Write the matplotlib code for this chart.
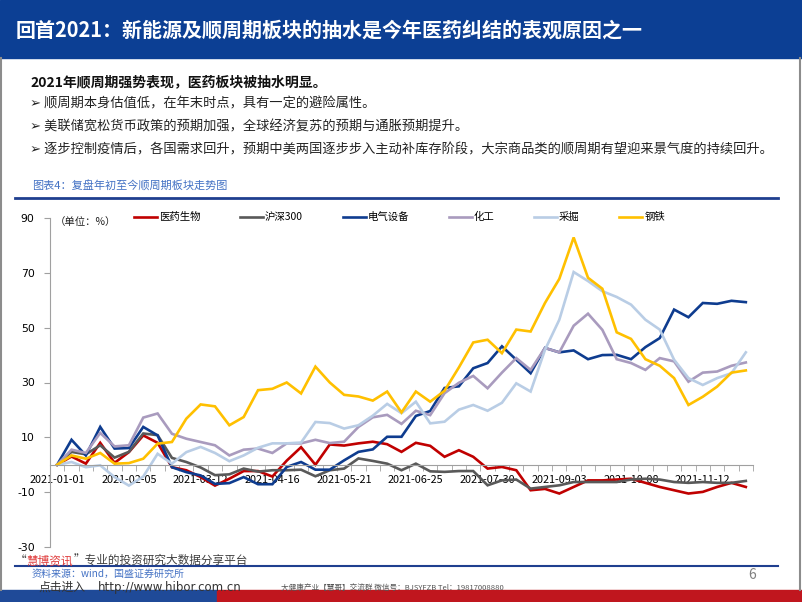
import matplotlib
matplotlib.use("Agg")
import matplotlib.pyplot as plt
from matplotlib.patches import Rectangle
import numpy as np
import pandas as pd

plt.rcParams['font.family'] = ['Noto Sans CJK SC', 'DejaVu Sans']
plt.rcParams['axes.unicode_minus'] = False

# weekly categories, 2021-01-01 .. 2021-12-03
dates = pd.date_range("2021-01-01", periods=49, freq="7D")
tick_labels = ["2021-01-01", "2021-02-05", "2021-03-12", "2021-04-16", "2021-05-21",
               "2021-06-25", "2021-07-30", "2021-09-03", "2021-10-08", "2021-11-12"]

names = ["医药生物", "沪深300", "电气设备", "化工", "采掘", "钢铁"]
colors = ["#C00000", "#595959", "#0E3C8F", "#A99BBE", "#B9CDE5", "#FFC000"]

yiyao = [0, 3.0, 0.4, 8.0, 0.7, 4.6, 10.7, 8.0, -0.9, -2.0, -4.5, -7.6, -5.1, -2.3, -2.3,
         -4.3, 1.5, 6.4, 0.0, 7.4, 7.0, 7.8, 8.4, 7.5, 4.7, 8.0, 6.9, 2.9, 5.3, 2.9, -1.4,
         -0.8, -2.0, -9.3, -8.8, -10.5, -8.1, -5.7, -5.7, -5.4, -5.1, -6.6, -8.1, -9.3,
         -10.5, -9.9, -8.1, -6.6, -8.1]
hs300 = [0, 4.7, 3.8, 7.1, 2.6, 4.7, 11.4, 10.8, 2.5, 1.0, -1.0, -3.8, -3.5, -1.4, -2.5,
         -2.0, -2.0, -1.8, -4.2, -2.0, -1.4, 2.3, 1.4, 0.4, -2.0, 0.4, -2.4, -2.6, -2.3,
         -2.3, -7.5, -5.7, -5.4, -8.7, -8.1, -7.5, -6.3, -6.3, -6.3, -6.3, -5.4, -5.1,
         -5.4, -6.3, -6.6, -6.3, -6.6, -6.6, -5.9]
dianqi = [0, 9.1, 3.4, 13.8, 5.9, 6.1, 13.8, 10.7, -0.9, -2.7, -3.9, -7.0, -6.7, -4.5,
          -7.1, -7.1, -0.8, 1.0, -1.8, -1.8, 1.6, 4.7, 5.6, 10.2, 10.2, 17.8, 19.6, 28.0,
          28.6, 35.2, 37.1, 43.2, 38.3, 33.4, 42.6, 41.0, 41.7, 38.5, 40.0, 40.1, 38.5,
          42.9, 46.2, 56.6, 53.8, 59.0, 58.7, 59.8, 59.3]
huagong = [0, 5.5, 4.3, 11.6, 6.7, 7.1, 17.2, 18.7, 11.3, 9.5, 8.3, 7.1, 3.4, 5.5, 5.9,
           4.3, 7.8, 7.8, 9.1, 7.9, 8.4, 13.8, 17.3, 18.2, 14.9, 19.7, 18.1, 26.1, 29.9,
           32.4, 27.9, 33.6, 38.9, 34.6, 42.6, 41.0, 50.7, 55.1, 49.2, 38.5, 37.1, 34.6,
           38.9, 37.7, 30.3, 33.6, 34.0, 36.1, 37.3]
caijue = [0, 1.0, -0.9, -0.2, -4.5, -7.6, -4.3, 4.0, 0.4, 4.6, 6.5, 4.3, 1.3, 3.4, 6.2,
          7.8, 7.8, 8.1, 15.6, 15.2, 13.2, 14.4, 17.9, 22.2, 18.8, 23.0, 15.1, 15.7, 20.1,
          21.8, 19.7, 22.6, 29.7, 26.7, 41.9, 52.9, 70.3, 67.0, 63.3, 61.2, 58.4, 52.9,
          49.3, 38.3, 31.6, 29.1, 31.6, 33.4, 41.0]
gangtie = [0, 3.4, 2.2, 4.3, 0.4, 0.6, 2.2, 7.7, 8.3, 16.8, 22.0, 21.3, 14.4, 17.4, 27.2,
           27.7, 30.0, 26.0, 35.8, 30.0, 25.5, 24.9, 23.4, 26.7, 19.1, 26.7, 23.0, 27.0,
           35.5, 44.6, 45.6, 40.7, 49.3, 48.6, 59.0, 67.8, 82.9, 68.2, 64.2, 48.3, 45.9,
           38.5, 36.1, 31.6, 21.8, 24.8, 28.5, 33.6, 34.4]
series = [yiyao, hs300, dianqi, huagong, caijue, gangtie]

W, H = 802, 602
fig = plt.figure(figsize=(W / 100, H / 100), dpi=100)
fig.patch.set_facecolor("white")

# page decoration in pixel coordinates
bg = fig.add_axes([0, 0, 1, 1])
bg.set_xlim(0, W)
bg.set_ylim(H, 0)
bg.axis("off")

bg.add_patch(Rectangle((0, 0), W, 58, color="#0C3F94"))
bg.plot([1, 1], [58, 590], color="#8C8C8C", lw=1.5)
bg.plot([800, 800], [58, 590], color="#8C8C8C", lw=1.5)
bg.text(16, 30, "回首2021：新能源及顺周期板块的抽水是今年医药纠结的表观原因之一",
        color="white", fontsize=14.4, fontweight="bold", va="center")

bg.text(30, 82, "2021年顺周期强势表现，医药板块被抽水明显。", fontsize=10,
        fontweight="bold", va="center", color="#111111")
bullets = ["顺周期本身估值低，在年末时点，具有一定的避险属性。",
           "美联储宽松货币政策的预期加强，全球经济复苏的预期与通胀预期提升。",
           "逐步控制疫情后，各国需求回升，预期中美两国逐步步入主动补库存阶段，大宗商品类的顺周期有望迎来景气度的持续回升。"]
for yy, b in zip([104, 127, 150], bullets):
    bg.text(30, yy, "➢ " + b, fontsize=9.5, va="center", color="#222222")

bg.text(32, 186, "图表4：复盘年初至今顺周期板块走势图", fontsize=8, va="center", color="#4472C4")
bg.plot([15, 778], [198, 198], color="#1F3F8F", lw=2)

# footer
t1 = bg.text(15, 561, "“", fontsize=8.4, va="center", color="#404040")
t2 = bg.annotate("慧博资讯", xy=(1, 0), xycoords=t1, va="bottom", fontsize=8.4, color="#E03C3C")
bg.annotate("”专业的投资研究大数据分享平台", xy=(1, 0), xycoords=t2, va="bottom",
            fontsize=8.4, color="#404040")
bg.plot([15, 778], [566, 566], color="#1F3F8F", lw=1.5)
bg.text(32, 574, "资料来源：wind，国盛证券研究所", fontsize=7.2, va="center", color="#4472C4")
bg.text(38, 587, "点击进入", fontsize=8.5, va="center", color="#333333")
bg.text(98, 587, "http://www.hibor.com.cn", fontsize=8.5, va="center", color="#333333",
        family="DejaVu Sans")
bg.text(748, 575, "6", fontsize=10, va="center", color="#808080")
bg.add_patch(Rectangle((0, 590), 217, 12, color="#1F4A98"))
bg.add_patch(Rectangle((217, 590), W - 217, 12, color="#C0161E"))
bg.text(281, 588, "大健康产业【慧哥】交流群 微信号：BJSYFZB Tel：19817008880",
        fontsize=5.5, va="center", color="#555555")

# chart
ax = fig.add_axes([50 / W, 1 - 547 / H, 703 / W, 329 / H])
ax.patch.set_alpha(0)
x = np.arange(len(dates))
for name, col, vals in zip(names, colors, series):
    ax.plot(x, vals, color=col, lw=1.9, label=name, solid_joinstyle="miter")

ax.set_xlim(-0.5, len(dates) - 0.5)
ax.set_ylim(-30, 90)
ax.set_yticks(np.arange(-30, 91, 20))
ax.set_axisbelow(True)

label_pos = [dates.get_loc(pd.Timestamp(t)) for t in tick_labels]
ax.set_xticks(label_pos)
ax.set_xticklabels(tick_labels)
ax.set_xticks(np.arange(-0.5, len(dates)), minor=True)
ax.tick_params(axis="x", which="major", length=0, pad=7.5, labelsize=7.8)
ax.tick_params(axis="x", which="minor", length=4, color="#A0A0A0", direction="out")
ax.tick_params(axis="y", length=4, color="#A0A0A0", pad=7, labelsize=7.8)
for lab in ax.get_xticklabels() + ax.get_yticklabels():
    lab.set_fontfamily("DejaVu Sans")

for s in ["top", "right"]:
    ax.spines[s].set_visible(False)
ax.spines["bottom"].set_position(("data", 0))
ax.spines["bottom"].set_color("#A0A0A0")
ax.spines["left"].set_color("#A0A0A0")

ax.legend(loc="upper left", bbox_to_anchor=(134 / W, 1 - 212 / H),
          bbox_transform=fig.transFigure, ncol=6, frameon=False, fontsize=7.5,
          handlelength=2.2, handletextpad=0.2, columnspacing=3.8,
          borderpad=0, borderaxespad=0)
bg.text(55, 222, "（单位：%）", fontsize=7.5, va="center", color="#222222")

fig.savefig("out.png", dpi=100, facecolor="white")
